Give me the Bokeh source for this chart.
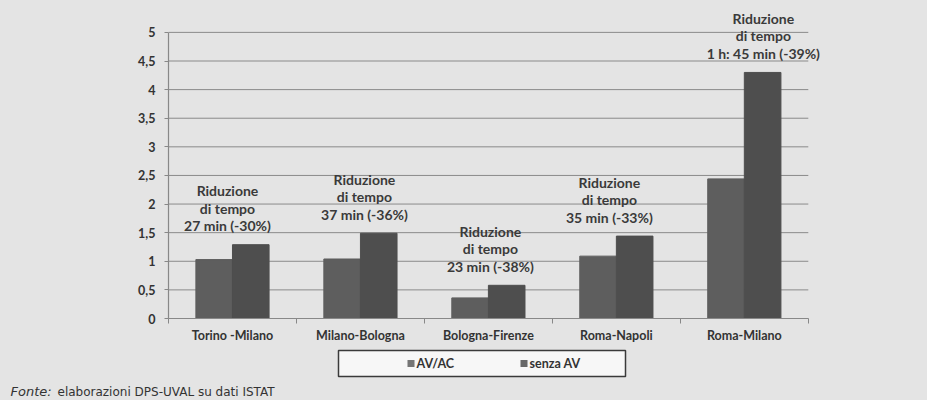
from bokeh.plotting import figure
from bokeh.layouts import column
from bokeh.models import FixedTicker, Range1d, ColumnDataSource
from bokeh.core.properties import value
from bokeh.embed import file_html
from bokeh.resources import INLINE

# ---- data ----
routes = ["Torino -Milano", "Milano-Bologna", "Bologna-Firenze", "Roma-Napoli", "Roma-Milano"]
av_ac = [1.03, 1.04, 0.36, 1.09, 2.44]
senza_av = [1.29, 1.49, 0.58, 1.44, 4.30]
riduzioni = ["27 min (-30%)", "37 min (-36%)", "23 min (-38%)", "35 min (-33%)", "1 h: 45 min (-39%)"]
y_ticks = [0, 0.5, 1, 1.5, 2, 2.5, 3, 3.5, 4, 4.5, 5]
y_tick_labels = ["0", "0,5", "1", "1,5", "2", "2,5", "3", "3,5", "4", "4,5", "5"]
series_names = ["AV/AC", "senza AV"]
source_note_a = "Fonte:"
source_note_b = "elaborazioni DPS-UVAL su dati ISTAT"

# ---- style ----
BG = "#e4e4e4"
TXT = "#333333"
GRID = "#8a8a8a"
C_AV = "#5e5e5e"
C_SENZA = "#4e4e4e"
FONT = "Lato"
label_dx = [-5, 4, 2, -7, 19]  # px shift of annotation blocks

n = len(routes)
centers = [i + 0.5 for i in range(n)]
bw = 0.286
W = 927


def no_align(fig):
    if hasattr(fig, "frame_align"):
        fig.frame_align = False


# ---- main chart ----
p = figure(width=W, height=346, output_backend="svg", toolbar_location=None,
           x_range=Range1d(0, n + 0.15), y_range=Range1d(0, 5.4),
           min_border_left=168, min_border_right=W - 827, min_border_top=9, min_border_bottom=28)
p.background_fill_color = BG
p.border_fill_color = BG
p.outline_line_color = None
p.grid.visible = False
no_align(p)

src = ColumnDataSource(dict(
    x_av=[c - bw / 2 for c in centers], x_s=[c + bw / 2 for c in centers],
    av=av_ac, s=senza_av, c=centers, r1=["Riduzione"] * n, r2=["di tempo"] * n, r3=riduzioni,
    dx=label_dx))

# horizontal gridlines over the category span
p.segment(x0=[0] * len(y_ticks), y0=y_ticks, x1=[n] * len(y_ticks), y1=y_ticks,
          line_color=GRID, line_width=1)

r_av = p.vbar(x="x_av", top="av", width=bw, source=src, fill_color=C_AV, line_color=C_AV)
r_s = p.vbar(x="x_s", top="s", width=bw, source=src, fill_color=C_SENZA, line_color=C_SENZA)

# annotations
for col, off in (("r1", -54), ("r2", -36.5), ("r3", -19)):
    p.text(x="c", y="s", text=col, source=src, x_offset="dx", y_offset=off,
           text_align="center", text_baseline="middle", text_font=value(FONT),
           text_font_style="bold", text_font_size="14px", text_color="#3a3a3a")

# axes
ya = p.yaxis[0]
ya.ticker = FixedTicker(ticks=y_ticks)
ya.bounds = (0, max(y_ticks))
ya.major_label_overrides = {float(t): l for t, l in zip(y_ticks, y_tick_labels)}
ya.axis_line_color = "#888888"
ya.axis_line_width = 1.2
ya.major_tick_line_color = "#888888"
ya.major_tick_out = 4
ya.major_tick_in = 0
ya.minor_tick_line_color = None
ya.major_label_standoff = 9
ya.major_label_text_font = FONT
ya.major_label_text_font_style = "bold"
ya.major_label_text_font_size = "12.5px"
ya.major_label_text_color = TXT

xa = p.xaxis[0]
xa.ticker = FixedTicker(ticks=centers, minor_ticks=list(range(n + 1)))
xa.bounds = (0, n)
xa.major_label_overrides = {float(c): r for c, r in zip(centers, routes)}
xa.axis_line_color = "#888888"
xa.axis_line_width = 1.2
xa.major_tick_line_color = None
xa.minor_tick_line_color = "#888888"
xa.minor_tick_out = 5
xa.minor_tick_in = 0
xa.major_label_standoff = 3
xa.major_label_text_font = FONT
xa.major_label_text_font_style = "bold"
xa.major_label_text_font_size = "12.5px"
xa.major_label_text_color = TXT

# ---- legend + source strip (pixel-unit coordinates, y downward) ----
H2 = 54
p2 = figure(width=W, height=H2, output_backend="svg", toolbar_location=None,
            x_range=Range1d(0, W), y_range=Range1d(H2, 0),
            x_axis_location=None, y_axis_location=None,
            min_border_left=0, min_border_right=0, min_border_top=0, min_border_bottom=0)
p2.background_fill_color = BG
p2.border_fill_color = BG
p2.outline_line_color = None
p2.grid.visible = False
no_align(p2)

# legend box
p2.quad(left=[338], right=[625], top=[4], bottom=[30], fill_color="#f7f7f7",
        line_color="#3a3a3a", line_width=1.5)
leg_x = [407, 520]
p2.rect(x=[x + 3.5 for x in leg_x], y=[17, 17], width=7, height=7,
        fill_color=[C_AV, C_SENZA], line_color=None, fill_alpha=0.85)
p2.text(x=[x + 9 for x in leg_x], y=[17, 17], text=series_names, text_baseline="middle",
        text_font=value(FONT), text_font_style="bold", text_font_size="12.5px", text_color=TXT)

# source note
p2.text(x=[10], y=[45], text=[source_note_a], text_baseline="middle",
        text_font=value("DejaVu Sans"), text_font_style="italic", text_font_size="13px",
        text_color=TXT)
p2.text(x=[57], y=[45], text=[source_note_b], text_baseline="middle",
        text_font=value("DejaVu Sans"), text_font_size="12px", text_color=TXT)

layout = column(p, p2, spacing=0, styles={"background-color": BG})
open("out.html", "w").write(file_html(layout, INLINE))
